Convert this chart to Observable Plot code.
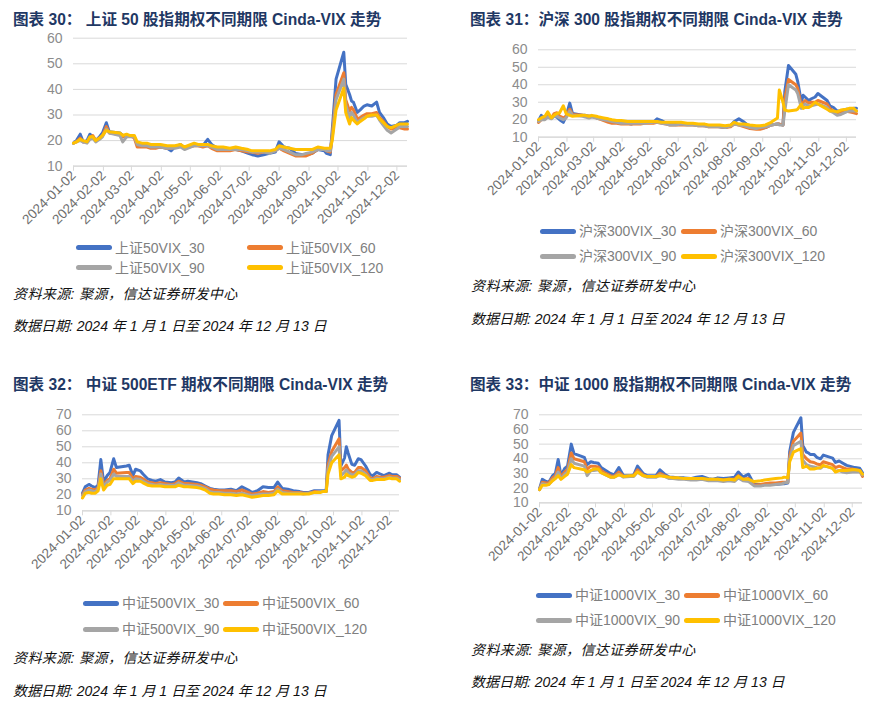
<!DOCTYPE html>
<html><head><meta charset="utf-8">
<script src="https://cdn.jsdelivr.net/npm/d3@7"></script>
<script src="https://cdn.jsdelivr.net/npm/@observablehq/plot@0.6"></script>
<style>
html,body{margin:0;padding:0;background:#fff;}
#root{position:relative;width:883px;height:703px;overflow:hidden;font-family:"Liberation Sans",Arial,"Noto Sans CJK SC",sans-serif;}
.abs{position:absolute;}
.title{font-weight:bold;font-size:15.6px;color:#1f3864;white-space:pre;line-height:20px;}
.cap{font-style:italic;font-size:14px;color:#111;white-space:pre;line-height:18px;}
.leg{font-size:14px;color:#808080;white-space:pre;line-height:18px;}
.sw{height:5px;border-radius:3px;}
</style></head>
<body><div id="root"></div>
<script>
const dates = ["2024-01-02","2024-01-05","2024-01-09","2024-01-12","2024-01-16","2024-01-19","2024-01-22","2024-01-25","2024-01-29","2024-02-01",
"2024-02-05","2024-02-08","2024-02-19","2024-02-22","2024-02-26","2024-02-29","2024-03-05","2024-03-08","2024-03-13","2024-03-18",
"2024-03-22","2024-03-27","2024-04-01","2024-04-08","2024-04-12","2024-04-16","2024-04-22","2024-04-26","2024-05-06","2024-05-10",
"2024-05-15","2024-05-20","2024-05-24","2024-05-30","2024-06-05","2024-06-12","2024-06-18","2024-06-24","2024-07-01","2024-07-05",
"2024-07-11","2024-07-17","2024-07-23","2024-07-29","2024-08-02","2024-08-07","2024-08-13","2024-08-19","2024-08-26","2024-08-30",
"2024-09-05","2024-09-11","2024-09-18","2024-09-20","2024-09-24","2024-09-26","2024-09-30","2024-10-08","2024-10-10","2024-10-14",
"2024-10-16","2024-10-18","2024-10-22","2024-10-25","2024-10-29","2024-11-01","2024-11-06","2024-11-11","2024-11-14","2024-11-18",
"2024-11-22","2024-11-26","2024-12-02","2024-12-05","2024-12-10","2024-12-13"];
const xTickLabels = ["2024-01-02","2024-02-02","2024-03-02","2024-04-02","2024-05-02","2024-06-02","2024-07-02","2024-08-02","2024-09-02","2024-10-02","2024-11-02","2024-12-02"];
const terms = ["30","60","90","120"];
const colors = ["#4472C4","#ED7D31","#A5A5A5","#FFC000"];

// 上证50
const sz50_30 = [19,20,22.5,19.5,20,22.5,21.5,20,21.5,23,27,23.5,23,22,22,22,21.5,18.5,18.5,18,17.5,17.5,17.5,17,16,17.5,18.5,17,18.5,18.5,18,20.5,18.5,17,16.5,16.5,16.5,16,15,14.5,14,14.5,15,15.5,19.5,17.5,17,15,14.5,14.5,15,16.5,16,15,14.5,24,44,54.5,42,38,35.5,35,31,32,33.5,34,33.5,35,31,29,26.5,25.5,26,27,27,27.5];
const sz50_60 = [19,19.5,21,19.5,19.5,21,22,20,21,22,25.5,23,22.5,21.5,21.5,22,21,17.5,17.5,17.5,17,17,17.5,17,17,17.5,18,17,18,18,17.5,18,17,16,16,16,16.5,16,15.5,15.5,15,15.5,15.5,16,17,16,15,14,14,14,15,16.5,16.5,16,15.5,22,38,46.5,36,31.5,33,32,28.5,29,30,30.5,30.5,31,29,27.5,25.5,24.5,25,25,24.5,24.5];
const sz50_90 = [19,19.5,20,19.5,19,20.5,21,19.5,20.5,21.5,24.5,23,22,19.5,21.5,21.5,21.5,18.5,18,18,17.5,17.5,17.5,17,17,17,17.5,16.5,18,18,18,18,17.5,16.5,16.5,16.5,16.5,16.5,16,15.5,15.5,15.5,15,16,17,16.5,15.5,14.5,14.5,15,15.5,16.5,16.5,16,16,21,36,44,34,29,31,30,27,28,29,29.5,29.5,30,28,26,24,23,24.5,25.5,25.5,25.5];
const sz50_120 = [19,19.5,20.5,20,19.5,21.5,21.5,20,21,22,24,23.5,23,22,22.5,22,22,19.5,19,19,18.5,18.5,18.5,18,18,18,18.5,17.5,19,18.5,18.5,18.5,18,17.5,17.5,17,17.5,17,16.5,16,16,16,16,16.5,18,17.5,17,16.5,16.5,16.5,16.5,17.5,17,17,17,20,32,40.5,31,26.5,29,28,26.5,27.5,28.5,29.5,30,30,28.5,27,25.5,25,26,26.5,26.5,26.5];

// 沪深300
const hs300_30 = [19.5,22.5,21,22,21,22,21.5,20,18.5,22,29.5,23.5,22.5,22.5,22,22,21.5,21,20.5,20,19.5,19,18.5,18,17.5,18.5,18,18.5,18.5,20.5,19.5,18,17.5,17.5,18,17.5,17.5,17,16.5,16.5,16.5,16,15.5,16.5,19,20.5,18.5,16,15,15,15.5,17,17.5,17.5,17,36,51,46,42,30,34,33,31,32,33,35,33,31,28,27,25,25,26,26,26.5,26.5];
const hs300_60 = [18.5,20,20.5,23,21,23.5,24,22,21,22,26,23,22.5,22,22,22,21,20.5,19.5,18.5,18,18,17.5,17.5,17.5,17.5,17.5,18,18,18.5,18,17.5,17,17,17,17,17,16.5,16.5,16,16,16,15.5,16,17.5,17,16,15,14.5,14.5,15.5,17,17.5,17.5,17,32,43,40,38,28,30,31,29.5,30,30,31,30,29,26.5,25,24,24.5,25,24.5,24,23.5];
const hs300_90 = [19,20,20,21.5,20.5,22,22,21,20,21,25,22.5,22,21.5,21,21.5,21,20.5,20,19.5,19,18.5,18,18,18,18,18,18,18.5,18.5,18,17.5,17,17,17.5,17,17,16.5,16.5,16,16,16,15.5,16.5,17.5,17,16.5,15.5,15,15.5,16,17,17.5,17,17,25,40,37,35,26.5,28,29,28,28,28.5,29,28,27,25,24,22.5,23,24.5,25,25,25];
const hs300_120 = [20,21,22,24.5,21,22.5,23.5,24,28,23.5,22.5,22,22.5,22.5,22,22.5,22,21.5,21,20.5,20,19.5,19.5,19,19,19,19,19,19,19,18.5,18.5,18.5,18.5,18.5,18,18,17.5,17.5,17,17,17,16.5,17,18.5,17.5,17.5,17,16.5,16.5,17,18.5,21,37,30,25.5,25,25.5,26,29,26.5,27,27,28,30,29,27.5,26,25,25,24.5,25.5,26,26.5,26.5,25];

// 中证500
const zz500_30 = [21,25,26.5,25.5,24.5,26,42,28,32,34,42.5,37,38,38.5,32,36,35,33,30,29,28.5,29.5,28,27.5,28,30.5,28,28.5,27.5,27,25.5,24,23.5,23,23,23.5,22.5,25,23,21.5,22.5,25,24.5,24.5,28,24,23.5,22.5,22,21.5,21.5,22.5,22.5,22.5,22.5,45,57,66.5,38,43,50,46,39,38.5,42.5,42,38,32.5,32,34,33,32,33.5,32.5,32.5,31];
const zz500_60 = [20,23,24,23.5,23,24.5,35,26,29,30,36,33.5,34,34,30,31.5,31,30,28,27.5,27,27.5,27,26.5,27,28.5,27,27,26.5,26,25,23.5,23,22.5,22.5,22.5,22,23,21.5,20.5,21,22,21.5,22,25,22.5,22,21.5,21.5,21,21,22,22,22,22,39,47,55,35,37,38.5,36,34,34,37,37,35,30.5,30,31.5,31,31,32,31.5,31.5,30.5];
const zz500_90 = [19.5,22,23,22.5,22,23.5,33,25,28,29,33,31.5,31.5,31.5,28.5,30,29.5,28.5,27,26.5,26,26.5,26,26,26,27.5,26,26,25.5,25,24,22,21.5,21.5,21,21,20.5,21,20,19.5,20,20.5,20.5,21,23.5,21.5,21,21,21,20.5,21,21.5,22,22,22,36,44,50,32,34,35.5,34,32.5,32.5,35,35,33,29.5,29.5,30.5,30,30,31,30.5,30.5,29.5];
const zz500_120 = [18,21,21.5,21,21,22.5,30,23,26,26.5,30,30,30,30,27,28.5,28.5,27.5,26,25.5,25.5,25.5,25,25,25,26,25,25,24.5,24,23,21,20.5,20.5,20,20,19.5,20,19,18.5,19,19.5,19.5,20,22.5,20.5,20.5,20.5,20.5,20.5,20.5,21.5,21.5,22,22,33,40,45,30,31,33,32,31,31.5,34,33.5,32,29,29,29.5,29.5,29.5,30.5,30,30,28.5];

// 中证1000
const zz1000_30 = [19.5,26,24.5,24,28.5,30,39.5,28.5,33.5,35,50,43.5,41,36,38,37.5,37,34,32,30,29,34,28.5,28.5,29,35,30,28.5,28.5,32.5,29.5,27.5,27.5,27,27,26.5,27.5,28,26.5,26,27,26.5,27,27.5,31,27.5,29.5,22.5,22.5,22.5,23,22.5,23,23,23.5,45,58,68,49,44.5,44,43,43,41,40,42.5,41.5,40.5,37.5,38.5,37,35.5,34.5,34,33.5,30.5];
const zz1000_60 = [19,24,23.5,23.5,27,28.5,34,27.5,31,32.5,44,40,38,33,35,35,34.5,32,30,28.5,28,31,28,28,28.5,32.5,29,28,28,30,28.5,27,27,26.5,26.5,26,26,26.5,25.5,25.5,26,25.5,26,26,28.5,26,26.5,22,22.5,23,23.5,23.5,24,24,24,42,52,57.5,43,40,39,38,37.5,36.5,36,38,37,36,34,35,34,33,33,32.5,32,28];
const zz1000_90 = [19,23,22.5,22.5,25.5,27,31,26.5,29.5,31,40,37,35,28.5,32,32,32.5,30.5,29,27.5,27.5,29.5,27.5,28,28,31,28.5,27.5,27.5,29,28,26.5,26.5,26,26,25.5,25.5,26,25,25,25,24.5,25,24.5,27,25,24.5,21.5,21.5,22,22,22.5,23,23.5,24,40,49,52,39,36,35.5,35,34.5,34,33.5,35,34.5,33.5,31.5,32,31,30.5,31,31,31,29];
const zz1000_120 = [19,22,22,22.5,25,26.5,28.5,26,28,29.5,36,34,32.5,31,32,33,33,30.5,29,27.5,27.5,29,28,28.5,28.5,31,28.5,28,28,28.5,28,27.5,27,27,26.5,26.5,26.5,26.5,26,26,26,25.5,26,25.5,28,26,26,24.5,25,25.5,26,26.5,27,27.5,27,38,44.5,47,34,35,34,33,33,33.5,34,35.5,34.5,33.5,31,32,32,32,32.5,32.5,32,29.5];

const titles = ["图表 30： 上证 50 股指期权不同期限 Cinda-VIX 走势","图表 31：沪深 300 股指期权不同期限 Cinda-VIX 走势","图表 32： 中证 500ETF 期权不同期限 Cinda-VIX 走势","图表 33：中证 1000 股指期权不同期限 Cinda-VIX 走势"];
const prefixes = ["上证50VIX_","沪深300VIX_","中证500VIX_","中证1000VIX_"];
const source = "资料来源: 聚源，信达证券研发中心";
const dateNote = "数据日期: 2024 年 1 月 1 日至 2024 年 12 月 13 日";
const yTicks1 = [10,20,30,40,50,60];
const yTicks2 = [10,20,30,40,50,60,70];

const root = document.getElementById("root");
const parse = d3.utcParse("%Y-%m-%d");
const xDates = dates.map(parse);
const xTicks = xTickLabels.map(parse);
const fontFam = '"Liberation Sans",Arial,"Noto Sans CJK SC",sans-serif';

function addDiv(cls, left, top, text, extra){
  const d = document.createElement("div");
  d.className = "abs " + cls;
  d.style.left = left + "px"; d.style.top = top + "px";
  if (text != null) d.textContent = text;
  if (extra) Object.assign(d.style, extra);
  root.appendChild(d);
  return d;
}

function panel(cfg){
  const series = cfg.series.map((vals, i) => ({name: cfg.prefix + terms[i], color: colors[i],
    rows: vals.map((v, j) => ({date: xDates[j], value: v}))}));
  const svg = Plot.plot({
    width: cfg.w, height: cfg.h,
    marginLeft: cfg.ml, marginRight: cfg.mr, marginTop: cfg.mt, marginBottom: cfg.mb,
    style: {fontFamily: fontFam, background: "transparent", overflow: "visible"},
    x: {type: "utc", domain: [xDates[0], xDates[xDates.length - 1]]},
    y: {domain: [cfg.yTicks[0], cfg.yTicks[cfg.yTicks.length - 1]]},
    marks: [
      Plot.gridY(cfg.yTicks, {stroke: "#d9d9d9", strokeOpacity: 1}),
      Plot.ruleY([cfg.yTicks[0]], {stroke: "#d9d9d9", strokeWidth: 1.2}),
      Plot.axisY(cfg.yTicks, {tickSize: 0, tickPadding: 11, fill: "#8c8c8c", fontSize: 14, label: null}),
      Plot.axisX(xTicks, {tickRotate: -45, tickFormat: d3.utcFormat("%Y-%m-%d"), tickSize: 5, tickPadding: 2,
        stroke: "#d9d9d9", fill: "#6e6e6e", fontSize: 13.5, label: null}),
      ...series.map(s => Plot.lineY(s.rows, {x: "date", y: "value", stroke: s.color, strokeWidth: 3,
        strokeLinejoin: "round", strokeLinecap: "round"}))
    ]
  });
  svg.style.position = "absolute";
  svg.style.left = cfg.left + "px"; svg.style.top = cfg.top + "px";
  root.appendChild(svg);
  addDiv("title", cfg.tx, cfg.ty, cfg.title);
  series.forEach((s, i) => {
    const col = i % 2, row = Math.floor(i / 2);
    const sx = cfg.legX[col], y = cfg.legY[row];
    addDiv("sw", sx, y - 2.5, null, {width: "36px", background: s.color});
    addDiv("leg", sx + 39, y - 9, s.name);
  });
  addDiv("cap", cfg.cx, cfg.capY[0] - 9, source, {letterSpacing: "0.4px"});
  addDiv("cap", cfg.cx, cfg.capY[1] - 9, dateNote);
}

panel({title: titles[0], prefix: prefixes[0], series: [sz50_30, sz50_60, sz50_90, sz50_120], yTicks: yTicks1,
  left: 0, top: 30, w: 420, h: 210, ml: 73, mr: 13, mt: 7.7, mb: 74.3,
  tx: 13, ty: 10, legX: [76, 247], legY: [247.5, 267.5], cx: 13, capY: [294, 326]});
panel({title: titles[1], prefix: prefixes[1], series: [hs300_30, hs300_60, hs300_90, hs300_120], yTicks: yTicks1,
  left: 440, top: 30, w: 440, h: 180, ml: 98, mr: 24, mt: 19.3, mb: 73.3,
  tx: 470, ty: 10, legX: [540, 681], legY: [231, 256], cx: 471, capY: [286, 319]});
panel({title: titles[2], prefix: prefixes[2], series: [zz500_30, zz500_60, zz500_90, zz500_120], yTicks: yTicks2,
  left: 0, top: 395, w: 420, h: 190, ml: 82, mr: 21, mt: 19.3, mb: 74.7,
  tx: 13, ty: 375, legX: [83, 223], legY: [603, 629], cx: 13, capY: [658, 691]});
panel({title: titles[3], prefix: prefixes[3], series: [zz1000_30, zz1000_60, zz1000_90, zz1000_120], yTicks: yTicks2,
  left: 440, top: 395, w: 440, h: 190, ml: 99, mr: 18, mt: 19.3, mb: 82.7,
  tx: 470, ty: 375, legX: [536, 684], legY: [595, 620], cx: 471, capY: [650, 682]});
</script></body></html>
